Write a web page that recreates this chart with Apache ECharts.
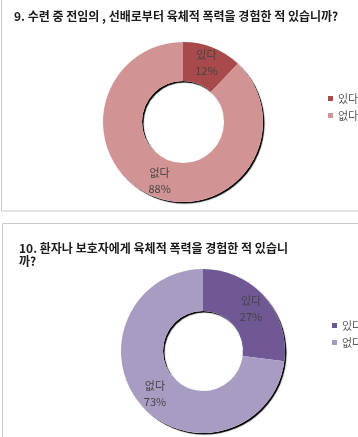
<!DOCTYPE html>
<html><head><meta charset="utf-8">
<script src="https://cdn.jsdelivr.net/npm/echarts@6/dist/echarts.min.js"></script>
<style>html,body{margin:0;padding:0;background:#fff}#c{width:358px;height:437px}</style>
</head><body><div id="c"></div>
<script>
const categories = ['있다', '없다'];
const q9Values = [12, 88];
const q10Values = [27, 73];
const q9Title = '9. 수련 중 전임의 , 선배로부터 육체적 폭력을 경험한 적 있습니까?';
const q10Title = '10. 환자나 보호자에게 육체적 폭력을 경험한 적 있습니\n까?';
const q9Colors = ['#a84a4b', '#d29394'];
const q10Colors = ['#6f5893', '#a99cc3'];

const FONT = '"Noto Sans CJK KR", "Noto Sans", sans-serif';
const chart = echarts.init(document.getElementById('c'), null, {renderer: 'canvas'});

function ringSeries(values, colors, center, radius) {
  return [{
    type: 'pie', silent: true, z: 1,
    center: center, radius: radius, startAngle: 90,
    label: {show: false}, labelLine: {show: false},
    itemStyle: {color: '#ffffff', borderWidth: 0,
      shadowColor: 'rgba(0,0,0,1)', shadowBlur: 1, shadowOffsetX: 1.5, shadowOffsetY: 1.5},
    emphasis: {disabled: true},
    data: [{name: 'shadow', value: 100}]
  }, {
    type: 'pie', z: 2,
    center: center, radius: radius, startAngle: 90, clockwise: true,
    label: {show: true, position: 'inside', formatter: '{b}\n{c}%', color: '#444444',
      fontFamily: FONT, fontSize: 11, lineHeight: 16, textBorderWidth: 0, textShadowBlur: 0},
    labelLine: {show: false},
    itemStyle: {borderWidth: 0},
    emphasis: {disabled: true},
    data: categories.map((n, i) => ({name: n, value: values[i], itemStyle: {color: colors[i]}}))
  }];
}

chart.setOption({
  animation: false,
  backgroundColor: '#ffffff',
  title: [
    {text: q9Title, left: 9, top: 5, textStyle: {fontFamily: FONT, fontSize: 12, fontWeight: 'bold', color: '#1a1a1a'}},
    {text: q10Title, left: 14, top: 237, textStyle: {fontFamily: FONT, fontSize: 12, fontWeight: 'bold', color: '#1a1a1a', lineHeight: 13}}
  ],
  legend: [
    {orient: 'vertical', left: 323, top: 88, itemWidth: 5, itemHeight: 5, itemGap: 6, icon: 'rect',
      textStyle: {fontFamily: FONT, fontSize: 11, color: '#555555'}, selectedMode: false,
      data: categories.map((n, i) => ({name: n, itemStyle: {color: q9Colors[i]}}))},
    {orient: 'vertical', left: 327, top: 315, itemWidth: 5, itemHeight: 5, itemGap: 6, icon: 'rect',
      textStyle: {fontFamily: FONT, fontSize: 11, color: '#555555'}, selectedMode: false,
      data: categories.map((n, i) => ({name: n, itemStyle: {color: q10Colors[i]}}))}
  ],
  graphic: [
    {type: 'rect', shape: {x: 1.5, y: -5, width: 400, height: 216}, style: {fill: 'none', stroke: '#c8c8c8', lineWidth: 1}, silent: true},
    {type: 'rect', shape: {x: 2.5, y: 223.5, width: 400, height: 300}, style: {fill: 'none', stroke: '#c8c8c8', lineWidth: 1}, silent: true}
  ],
  series: [
    ...ringSeries(q9Values, q9Colors, [183, 122], [41, 80]),
    ...ringSeries(q10Values, q10Colors, [203, 351], [40, 82])
  ]
});
</script></body></html>
